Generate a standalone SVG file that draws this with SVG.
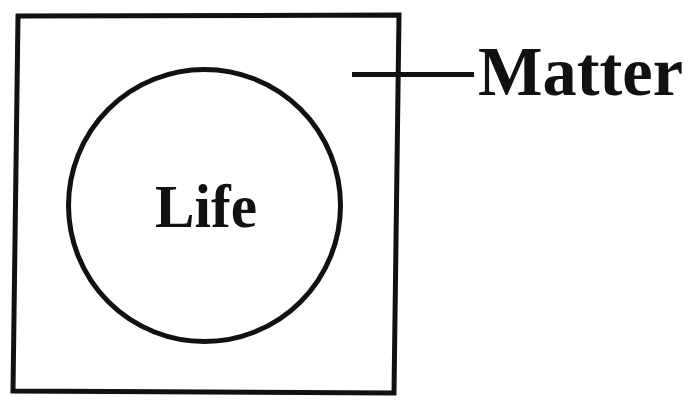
<svg xmlns="http://www.w3.org/2000/svg" width="691" height="400" viewBox="0 0 691 400">
<style>
.ln{fill:none;stroke:#111;stroke-width:5;stroke-linejoin:miter}
.lbl{font-family:"Liberation Serif","Times New Roman",serif;font-weight:bold;fill:#111}
</style>
<rect width="691" height="400" fill="#fff"/>
<g id="matter">
<polygon class="ln" points="18,16 399,15 394,393 13,391"/>
<text class="lbl" x="478" y="95" font-size="69" textLength="205" lengthAdjust="spacingAndGlyphs">Matter</text>
</g>
<g id="life">
<circle class="ln" cx="204.5" cy="205.5" r="136"/>
<text class="lbl" x="155" y="227" font-size="62" textLength="102" lengthAdjust="spacingAndGlyphs">Life</text>
</g>
<g id="connectors">
<line class="ln" x1="352" y1="74.5" x2="474" y2="74.5" stroke-width="4"/>
</g>
</svg>
